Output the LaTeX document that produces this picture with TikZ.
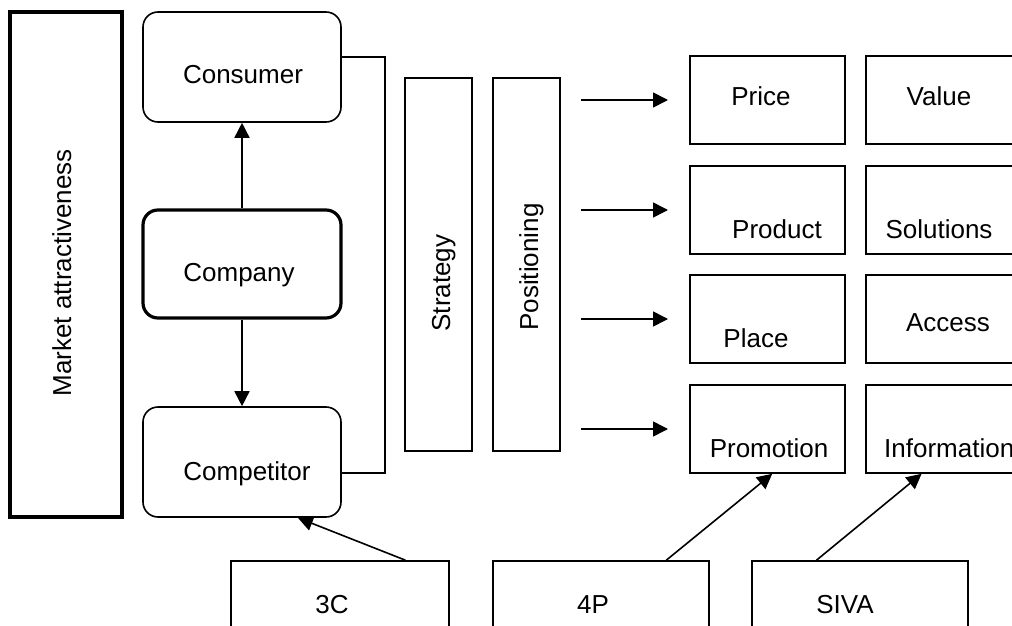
\documentclass[tikz,border=0pt]{standalone}
\usepackage{fontspec}
\setmainfont{Liberation Sans}
\usetikzlibrary{arrows.meta,calc}
\begin{document}
\begin{tikzpicture}[x=1pt,y=-1pt,
  every node/.style={font=\fontsize{26}{30}\selectfont, inner sep=0pt},
  thinbox/.style={draw, line width=1.6pt, rectangle},
  thickbox/.style={draw, line width=3.2pt, rectangle},
  roundbox/.style={draw, line width=1.6pt, rounded corners=15pt},
  lbl/.style={anchor=base},
  conn/.style={line width=1.6pt, -{Triangle[length=15pt,width=15pt]}},
  plain/.style={line width=1.6pt}]
\useasboundingbox (0,0) rectangle (1012,626);
\clip (0,0) rectangle (1012,626);
% left column
\node[thickbox, minimum width=112pt, minimum height=505pt] (market) at (66,264.5) {};
\node[lbl, rotate=90] (tmarket) at (71,273) {Market attractiveness};
\node[roundbox, minimum width=198pt, minimum height=110pt] (cons) at (242,67) {};
\node[lbl] (tcons) at (243,83) {Consumer};
\node[roundbox, line width=3.2pt, minimum width=198pt, minimum height=108pt] (comp0) at (242,264) {};
\node[lbl] (tcomp0) at (239,281) {Company};
\node[roundbox, minimum width=198pt, minimum height=110pt] (comp) at (242,462) {};
\node[lbl] (tcomp) at (247,480) {Competitor};
\draw[conn] (comp0.north) -- (cons.south);
\draw[conn] (comp0.south) -- (comp.north);
\draw[plain] ([yshift=10pt]cons.east) -- ++(43,0) |- ([yshift=-11pt]comp.east);
% strategy / positioning
\node[thinbox, minimum width=67pt, minimum height=373pt] (strat) at (438.5,264.5) {};
\node[lbl, rotate=90] (tstrat) at (450,283) {Strategy};
\node[thinbox, minimum width=67pt, minimum height=373pt] (pos) at (526.5,264.5) {};
\node[lbl, rotate=90] (tpos) at (538,267) {Positioning};
% grid
\foreach \n/\y in {a/100,b/210,c/319,d/429}{
  \node[thinbox, minimum width=155pt, minimum height=88pt] (p\n) at (767.5,\y) {};
  \node[thinbox, minimum width=155pt, minimum height=88pt] (s\n) at (943.5,\y) {};
  \coordinate (as\n) at (581,\y);
  \coordinate (ae\n) at (668,\y);
  \draw[conn] (as\n) -- (ae\n);
}
\node[lbl] (tprice) at (761,106) {Price};
\node[lbl] (tvalue) at (939,106) {Value};
\node[lbl] (tproduct) at (777,238) {Product};
\node[lbl] (tsol) at (939,238) {Solutions};
\node[lbl] (tplace) at (756,347) {Place};
\node[lbl] (taccess) at (948,331) {Access};
\node[lbl] (tpromo) at (769,457) {Promotion};
\node[anchor=base west] (tinfo) at (884,457) {Information};
% bottom boxes
\node[thinbox, minimum width=218pt, minimum height=80pt] (c3) at (340,601) {};
\node[lbl] (tc3) at (332,613) {3C};
\node[thinbox, minimum width=216pt, minimum height=80pt] (p4) at (601,601) {};
\node[lbl] (tp4) at (593,613) {4P};
\node[thinbox, minimum width=216pt, minimum height=80pt] (siva) at (860,601) {};
\node[lbl] (tsiva) at (845,613) {SIVA};
\draw[conn] ($(c3.north west)!0.798!(c3.north east)$) -- ($(comp.south west)!0.78!(comp.south east)$);
\draw[conn] ($(p4.north west)!0.80!(p4.north east)$) -- ($(pd.south west)!0.53!(pd.south east)$);
\draw[conn] ($(siva.north west)!0.30!(siva.north east)$) -- ($(sd.south west)!0.36!(sd.south east)$);
\end{tikzpicture}
\end{document}
